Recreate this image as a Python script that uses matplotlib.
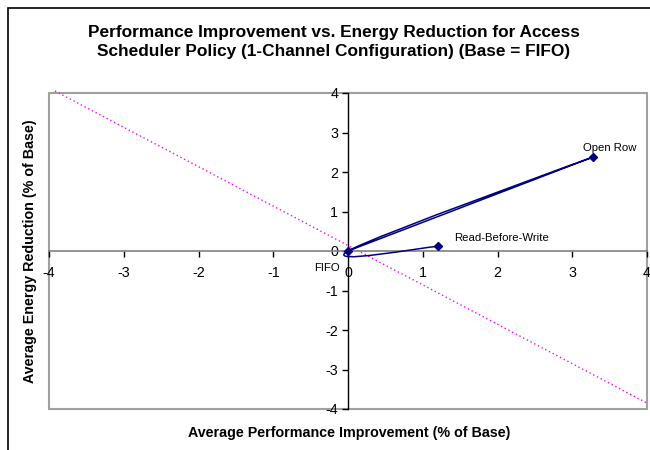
import numpy as np
import matplotlib
matplotlib.use('Agg')
import matplotlib.pyplot as plt
from matplotlib.path import Path
from matplotlib.patches import PathPatch, Rectangle

plt.rcParams['font.family'] = ['Liberation Sans', 'DejaVu Sans']

# series points, in drawing order (Excel smoothed line)
policy_x = [0.0, 3.28, 0.0, 1.21]
policy_y = [0.0, 2.38, 0.0, 0.12]

# labelled points
label_names = ['FIFO', 'Open Row', 'Read-Before-Write']
label_x = [0.0, 3.28, 1.21]
label_y = [0.0, 2.38, 0.12]
label_offsets = [(-8, -17), (-10, 9), (16, 8)]   # pixels
label_ha = ['right', 'left', 'left']

# dotted reference line
ref_x = [-3.92, 4.0]
ref_y = [4.05, -3.85]

ticks = [-4, -3, -2, -1, 0, 1, 2, 3, 4]


def smooth_path(xs, ys):
    # Catmull-Rom style bezier like Excel's "smoothed line"
    pts = np.column_stack([xs, ys])
    n = len(pts)
    verts = [pts[0]]
    codes = [Path.MOVETO]
    for i in range(n - 1):
        p_prev = pts[max(i - 1, 0)]
        p0 = pts[i]
        p1 = pts[i + 1]
        p_next = pts[min(i + 2, n - 1)]
        c1 = p0 + (p1 - p_prev) / 6.0
        c2 = p1 - (p_next - p0) / 6.0
        verts += [c1, c2, p1]
        codes += [Path.CURVE4] * 3
    return Path(verts, codes)


fig = plt.figure(figsize=(6.5, 4.5), dpi=100)
ax = fig.add_axes([49 / 650, 41 / 450, 598 / 650, 316 / 450])

# outer chart border
fig.patches.append(Rectangle((8 / 650, -0.1), 2.0, (450 - 8) / 450 + 0.1,
                             transform=fig.transFigure, fill=False,
                             edgecolor='black', linewidth=1.2))

ax.set_xlim(-4, 4)
ax.set_ylim(-4, 4)

# plot area frame
ax.add_patch(Rectangle((0, 0), 1, 1, transform=ax.transAxes, fill=False,
                       edgecolor='#a0a0a0', linewidth=1.5, clip_on=False, zorder=0))

for s in ['top', 'right']:
    ax.spines[s].set_visible(False)
ax.spines['left'].set_position(('data', 0))
ax.spines['bottom'].set_position(('data', 0))
ax.spines['left'].set_color('black')
ax.spines['bottom'].set_color('#808080')
ax.spines['left'].set_linewidth(1.0)
ax.spines['bottom'].set_linewidth(1.2)

ax.set_xticks(ticks)
ax.set_yticks(ticks)
ax.set_xticklabels([str(t) for t in ticks])
ax.set_yticklabels([str(t) for t in ticks])
ax.tick_params(axis='x', direction='out', length=4, width=1, color='black',
               labelsize=10.3, pad=7)
ax.tick_params(axis='y', direction='out', length=4, width=1, color='black',
               labelsize=10.3, pad=3)

# reference line
ax.plot(ref_x, ref_y, color='#ff00ff', linestyle=(0, (1, 2)), linewidth=1.0,
        clip_on=False, zorder=2)

# smoothed series line
ax.add_patch(PathPatch(smooth_path(policy_x, policy_y), facecolor='none',
                       edgecolor='#000080', linewidth=1.1, zorder=3))
ax.plot(label_x, label_y, linestyle='none', marker='D', markersize=4,
        color='#000080', zorder=4)

for name, x, y, off, ha in zip(label_names, label_x, label_y, label_offsets, label_ha):
    ax.annotate(name, (x, y), xytext=off, textcoords='offset pixels',
                ha=ha, va='center', fontsize=8.2)

fig.text(334 / 650, 1 - 42 / 450,
         'Performance Improvement vs. Energy Reduction for Access\n'
         'Scheduler Policy (1-Channel Configuration) (Base = FIFO)',
         ha='center', va='center', fontsize=12.4, fontweight='bold', linespacing=1.4)
fig.text(349 / 650, 1 - 433 / 450, 'Average Performance Improvement (% of Base)',
         ha='center', va='center', fontsize=10.3, fontweight='bold')
fig.text(30 / 650, 1 - 251 / 450, 'Average Energy Reduction (% of Base)',
         ha='center', va='center', fontsize=10.3, fontweight='bold', rotation=90)

fig.savefig('out.png', dpi=100)
